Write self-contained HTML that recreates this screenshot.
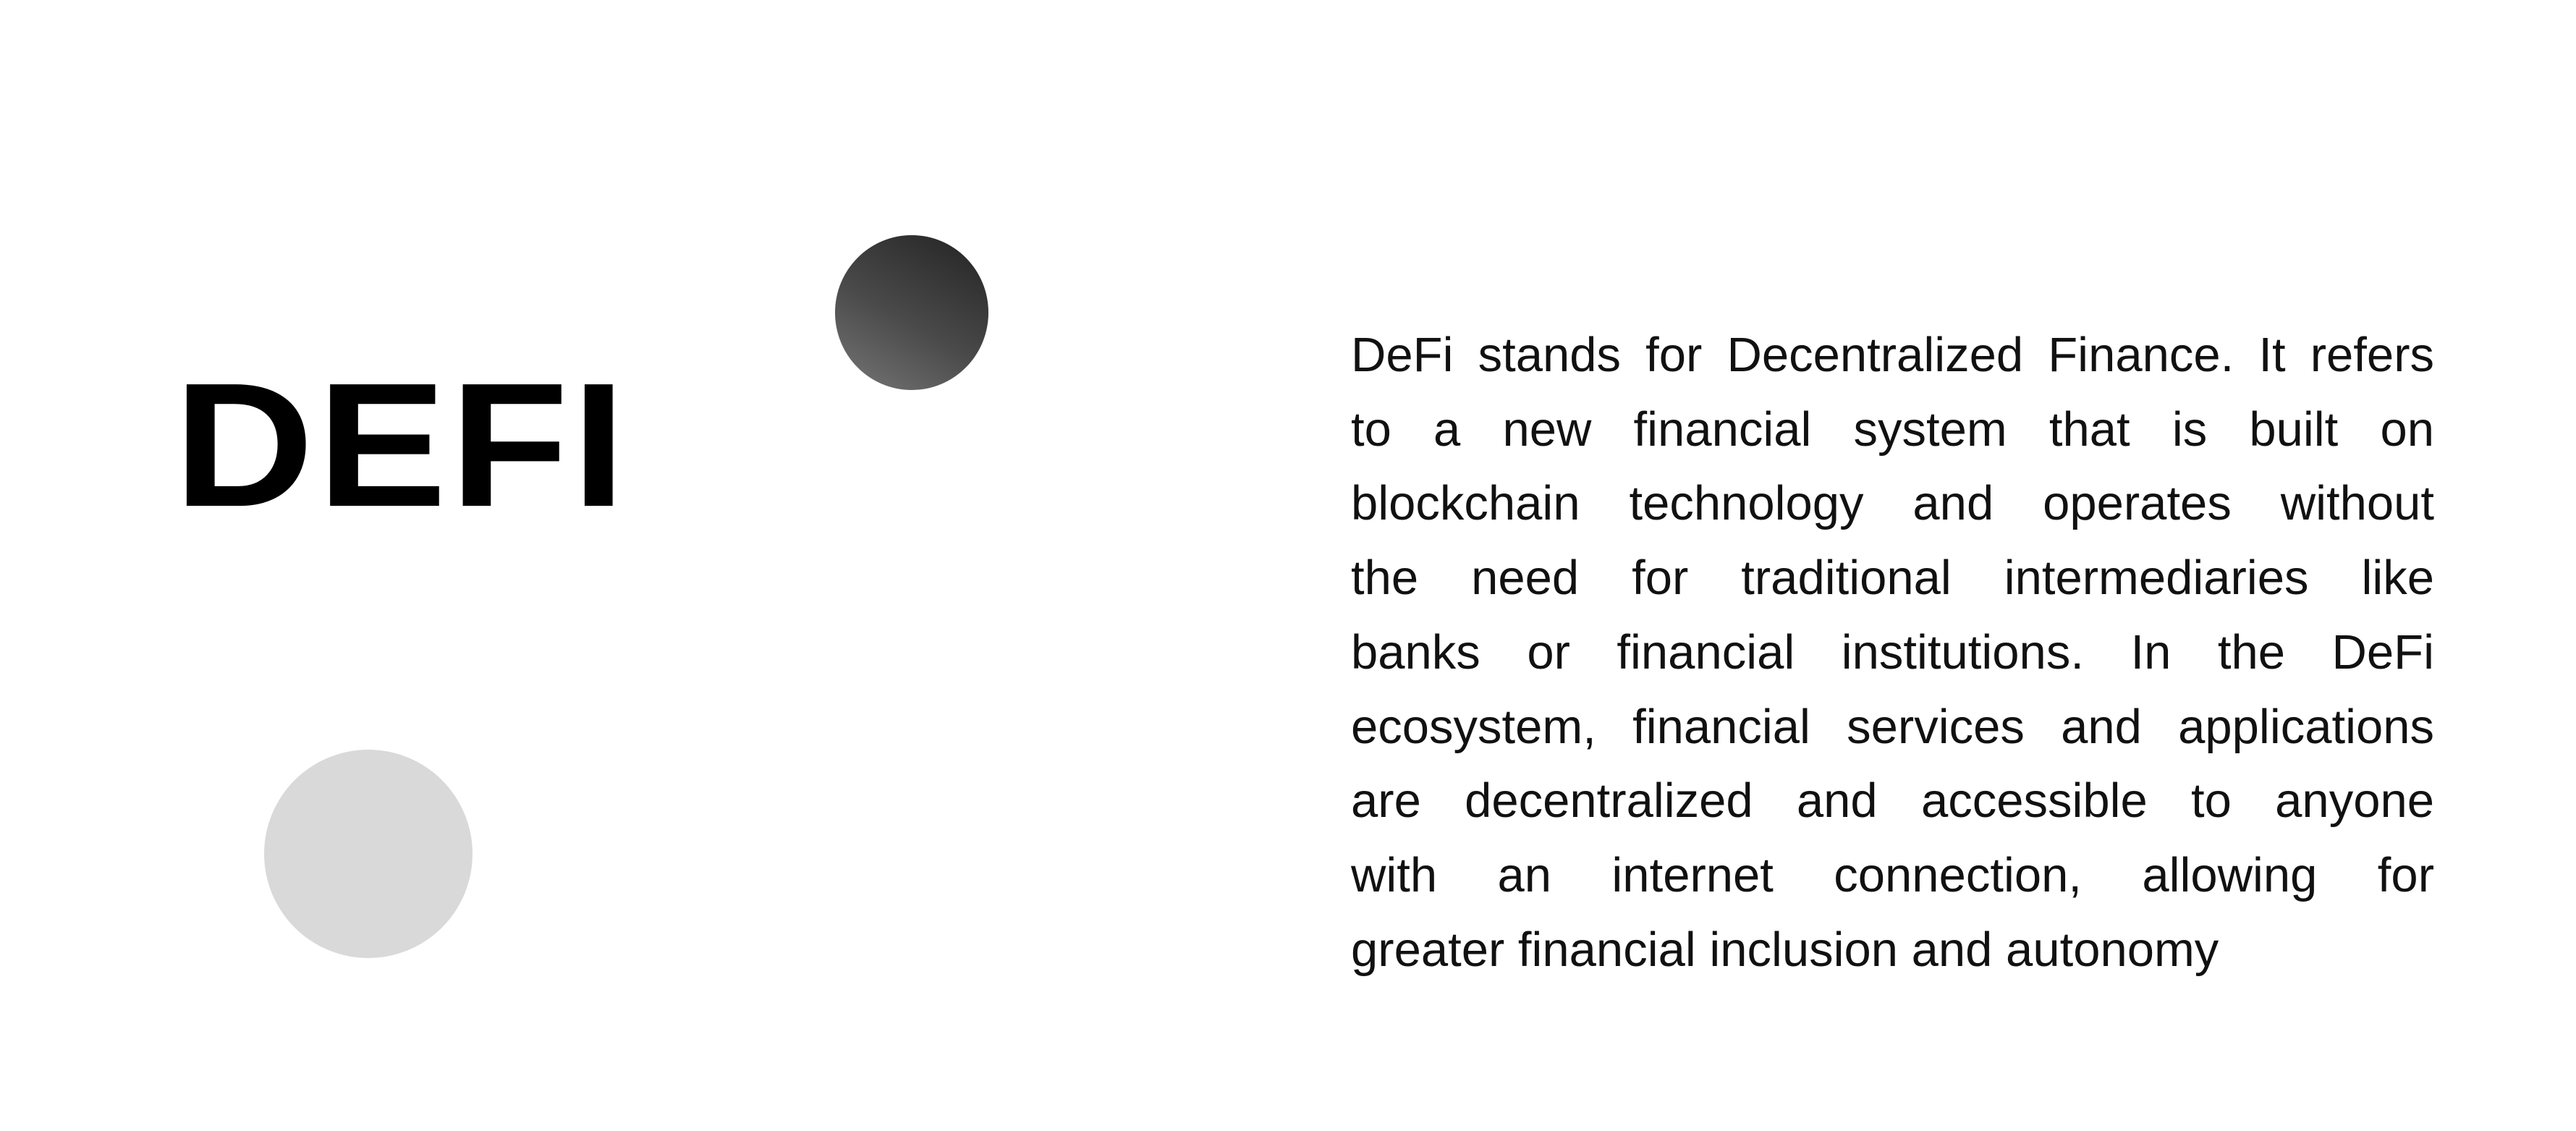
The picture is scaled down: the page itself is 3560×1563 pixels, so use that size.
<!DOCTYPE html>
<html><head><meta charset="utf-8"><style>
html,body{margin:0;padding:0;background:#fff;}
body{width:3560px;height:1563px;position:relative;overflow:hidden;font-family:"Liberation Sans",sans-serif;}
.title{position:absolute;left:240px;top:493px;font-size:244px;font-weight:bold;color:#000;line-height:1;letter-spacing:4px;transform:scaleX(1.1);transform-origin:left top;}
.c1{position:absolute;left:1154px;top:325px;width:212px;height:214px;border-radius:50%;background:linear-gradient(30deg,#777 0%,#4a4a4a 45%,#222 100%);}
.c2{position:absolute;left:365px;top:1036px;width:288px;height:288px;border-radius:50%;background:#d9d9d9;}
.para{position:absolute;left:1867px;top:440px;width:1497px;font-size:67px;line-height:102.7px;color:#111;}
.para div{text-align:justify;text-align-last:justify;white-space:nowrap;}
.para div.last{text-align-last:left;}
</style></head><body>
<div class="title">DEFI</div>
<div class="c1"></div>
<div class="c2"></div>
<div class="para">
<div>DeFi stands for Decentralized Finance. It refers</div>
<div>to a new financial system that is built on</div>
<div>blockchain technology and operates without</div>
<div>the need for traditional intermediaries like</div>
<div>banks or financial institutions. In the DeFi</div>
<div>ecosystem, financial services and applications</div>
<div>are decentralized and accessible to anyone</div>
<div>with an internet connection, allowing for</div>
<div class="last">greater financial inclusion and autonomy</div>
</div>
</body></html>
